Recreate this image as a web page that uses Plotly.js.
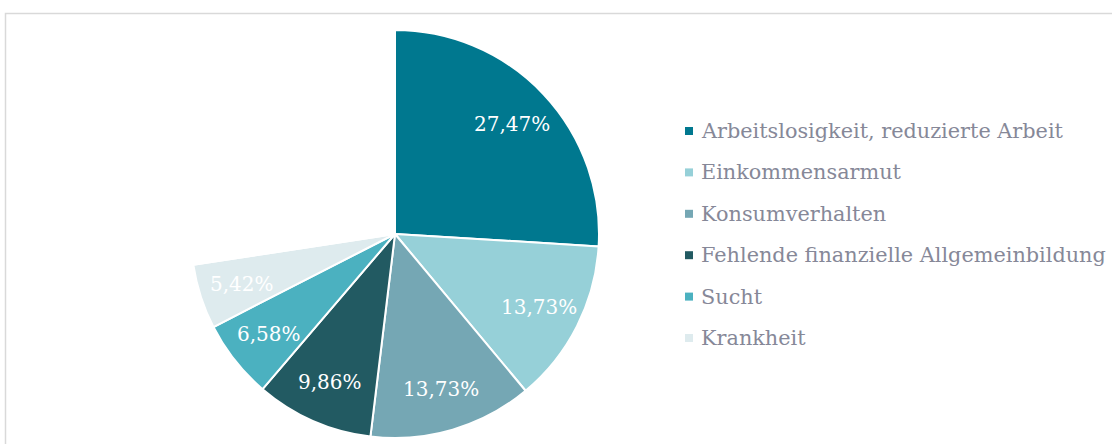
<!DOCTYPE html>
<html>
<head>
<meta charset="utf-8">
<script src="https://cdn.plot.ly/plotly-3.0.1.min.js"></script>
<style>html,body{margin:0;padding:0;background:#fff;}#chart{width:1112px;height:444px;}</style>
</head>
<body>
<div id="chart"></div>
<script>
// Data
const categories = [
  "Arbeitslosigkeit, reduzierte Arbeit",
  "Einkommensarmut",
  "Konsumverhalten",
  "Fehlende finanzielle Allgemeinbildung",
  "Sucht",
  "Krankheit"
];
const values = [27.47, 13.73, 13.73, 9.86, 6.58, 5.42];
const hiddenRest = 29.0; // unlabelled, unfilled remainder of the circle
const colors = ["#00788f", "#96d0d8", "#75a7b4", "#225a62", "#4bb1c0", "#deebee"];

const W = 1112, H = 444;
const px = x => x / W;
const py = y => 1 - y / H;

const labelText = values.map(v => v.toFixed(2).replace('.', ',') + '%');

// pie geometry (layout)
const CX = 395, CY = 234, R = 204;

const pie = {
  type: 'pie',
  labels: categories.concat(['rest']),
  values: values.concat([hiddenRest]),
  textinfo: 'none',
  sort: false,
  direction: 'clockwise',
  rotation: 0,
  marker: { colors: colors.concat(['rgba(0,0,0,0)']), line: { color: '#ffffff', width: 2 } },
  domain: { x: [px(CX - R), px(CX + R)], y: [py(CY + R), py(CY - R)] },
  showlegend: false,
  hoverinfo: 'none'
};

const annotations = [];
// slice labels placed along each slice's mid-angle (derived from the values)
const total = values.reduce((a, b) => a + b, 0) + hiddenRest;
let cum = 0;
values.forEach((v, i) => {
  const mid = (cum + v / 2) / total * 2 * Math.PI;
  cum += v;
  const r = 0.79 * R;
  annotations.push({
    xref: 'paper', yref: 'paper',
    x: px(CX + r * Math.sin(mid)), y: py(CY - r * Math.cos(mid)),
    xanchor: 'center', yanchor: 'middle', showarrow: false,
    text: labelText[i],
    font: { family: 'DejaVu Serif', size: 20, color: '#ffffff' }
  });
});

// manual legend
const legendTop = 131, legendStep = 41.4;
const shapes = [{
  type: 'rect', xref: 'paper', yref: 'paper',
  x0: px(5.5), x1: 1.05, y0: -0.05, y1: py(13.5),
  line: { color: '#d9d9d9', width: 1.5 }, fillcolor: 'rgba(0,0,0,0)'
}];
categories.forEach((c, i) => {
  const yc = legendTop + i * legendStep;
  shapes.push({
    type: 'rect', xref: 'paper', yref: 'paper',
    x0: px(685), x1: px(693), y0: py(yc + 4), y1: py(yc - 4),
    line: { width: 0 }, fillcolor: colors[i]
  });
  annotations.push({
    xref: 'paper', yref: 'paper', x: px(699), y: py(yc), xanchor: 'left', yanchor: 'middle',
    text: c, showarrow: false,
    font: { family: 'DejaVu Serif', size: 20.8, color: '#868898' }
  });
});

const layout = {
  width: W, height: H,
  margin: { l: 0, r: 0, t: 0, b: 0 },
  paper_bgcolor: '#ffffff',
  shapes: shapes,
  annotations: annotations,
  showlegend: false
};

Plotly.newPlot('chart', [pie], layout, { displayModeBar: false, staticPlot: true });
</script>
</body>
</html>
